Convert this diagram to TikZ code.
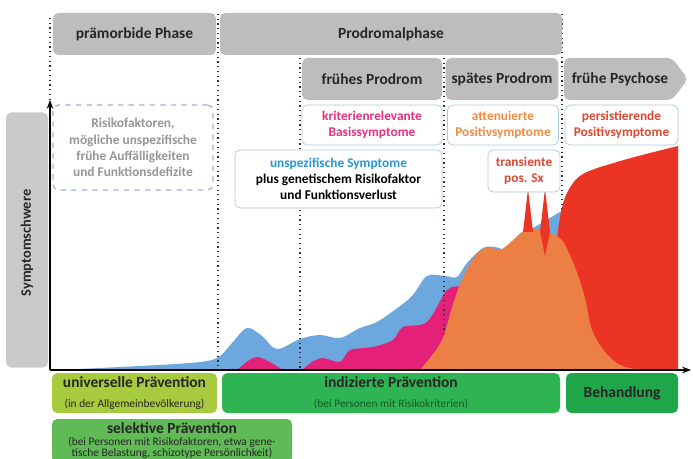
\documentclass[tikz,border=0pt]{standalone}
\usepackage{fontspec}
\setmainfont{Carlito}
\usetikzlibrary{arrows.meta}

\definecolor{hdrgray}{RGB}{189,189,189}
\definecolor{bargray}{RGB}{202,202,202}
\definecolor{boxline}{RGB}{168,200,224}
\definecolor{sblue}{RGB}{108,168,222}
\definecolor{spink}{RGB}{228,32,120}
\definecolor{sorange}{RGB}{236,128,68}
\definecolor{sred}{RGB}{236,52,36}
\definecolor{tblue}{RGB}{40,150,215}
\definecolor{tgray}{RGB}{150,150,150}
\definecolor{tpink}{RGB}{226,50,128}
\definecolor{torange}{RGB}{240,140,70}
\definecolor{tred}{RGB}{220,72,50}
\definecolor{gyellow}{RGB}{168,202,62}
\definecolor{gmid}{RGB}{46,180,82}
\definecolor{gdark}{RGB}{32,166,74}
\definecolor{gsel}{RGB}{96,186,86}
\newcommand\subfnt{\fontsize{6.5}{6.3}\selectfont\mdseries}

\begin{document}
\begin{tikzpicture}[x=0.02cm,y=-0.02cm,
    hdr/.style={fill=hdrgray, rounded corners=3pt, text=black!85,
      font=\fontsize{8.8}{10}\selectfont\bfseries},
    lbl/.style={draw=boxline, fill=white, rounded corners=3pt, align=center,
      inner sep=1pt, font=\fontsize{7.6}{9.2}\selectfont\bfseries},
    prev/.style={rounded corners=3pt, align=center, inner sep=1pt, text=black!85,
      font=\fontsize{8.8}{10}\selectfont\bfseries},
    phase/.style={black!80, line width=0.7pt, dotted}]
  \def\px{0.02cm}

  \useasboundingbox (0,0) rectangle (693,459);

  \fill[sblue] (56,370) -- plot[smooth, tension=0.55] coordinates {(56,370) (120,367) (190,363)
    (217,358) (232,343) (247,328) (262,336) (277,349) (300,339) (320,335) (340,338)
    (360,328) (375,323) (392,312) (412,296) (427,276) (445,276) (457,277) (467,263)
    (483,248) (495,247) (507,249) (520,235) (533,228) (560,212) (568,208)} -- (568,370) -- cycle;
  \fill[spink] (237,370) -- plot[smooth] coordinates {(237,370) (248,361) (257,357) (268,361) (283,370)} -- cycle;
  \fill[spink] (302,370) -- plot[smooth, tension=0.5] coordinates {(302,370) (312,362) (323,358)
    (340,362) (350,350) (373,347) (393,340) (403,327) (427,322) (447,290) (462,286) (472,282)}
    -- (472,370) -- cycle;

  \foreach \x/\yt in {50/18, 218/14, 300/58, 444/58, 562/14}
    \draw[phase] (\x,\yt) -- (\x,370);

  \fill[sred] (557,370) -- (557,238) -- plot[smooth, tension=0.6] coordinates {(557,238) (561,212)
    (568,191) (583,174) (617,162) (650,153) (678,146)} -- (678,370) -- cycle;
  \fill[sorange] (420,370) -- plot[smooth, tension=0.55] coordinates {(420,370) (436,350) (444,335)
    (453,304) (463,277) (476,255) (488,247) (500,250) (512,241) (522,232) (531,228)
    (541,231) (553,234) (564,243) (576,270) (585,298) (592,330) (605,352) (620,365)
    (640,370)} -- cycle;
  \fill[sred] (528,189) -- (533,232) -- (523,232) -- cycle;
  \fill[sred] (545,189) -- (550,232) -- (545,256) -- (540,232) -- cycle;

  \node[hdr, minimum width=163*\px, minimum height=42*\px] (praem) at (134.5,34) {prämorbide Phase};
  \node[hdr, minimum width=342*\px, minimum height=42*\px] (prodr) at (391,34) {Prodromalphase};
  \node[hdr, minimum width=140*\px, minimum height=42*\px] (frueh) at (372,79) {frühes Prodrom};
  \node[hdr, minimum width=112*\px, minimum height=42*\px] (spaet) at (502,79) {spätes Prodrom};
  \fill[hdrgray, rounded corners=3pt] (564,58) -- (672,58) -- (688,79) -- (672,100) -- (564,100) -- cycle;
  \node[font=\fontsize{8.8}{10}\selectfont\bfseries, text=black!85] (psych) at (620,79) {frühe Psychose};

  \node[fill=bargray, rounded corners=3pt, minimum width=42*\px, minimum height=255*\px] (ybar) at (27,240) {};
  \node[rotate=90, text=black!85, font=\fontsize{8.2}{9}\selectfont\bfseries] (ylab) at (27,243) {Symptomschwere};

  \node[lbl, draw=boxline!90!blue, dashed, line width=0.7pt, text=tgray,
    minimum width=160*\px, minimum height=85*\px] (risk) at (133,147.5)
    {Risikofaktoren,\\mögliche unspezifische\\frühe Auffälligkeiten\\und Funktionsdefizite};
  \node[lbl, text=tpink, minimum width=140*\px, minimum height=40*\px] (krit) at (372,125)
    {kriterienrelevante\\Basissymptome};
  \node[lbl, text=torange, minimum width=111*\px, minimum height=40*\px] (atten) at (503,125)
    {attenuierte\\Positivsymptome};
  \node[lbl, text=tred, minimum width=113*\px, minimum height=40*\px] (persist) at (621.5,125)
    {persistierende\\Positivsymptome};
  \node[lbl, text=tred, minimum width=72*\px, minimum height=42*\px] (trans) at (524,171)
    {transiente\\pos. Sx};
  \node[lbl, text=black, minimum width=207*\px, minimum height=58*\px] (unspez) at (338.5,179)
    {\textcolor{tblue}{unspezifische Symptome}\\plus genetischem Risikofaktor\\und Funktionsverlust};

  \coordinate (orig) at (50,370);
  \draw[line width=1pt, -{Stealth[length=5pt]}] (orig) -- (50,100) coordinate (ytop);
  \draw[line width=1pt, -{Stealth[length=5pt]}] (orig) -- (691,370) coordinate (xend);

  \node[prev, fill=gyellow, minimum width=165*\px, minimum height=40*\px] (univ) at (134.5,393)
    {universelle Prävention\\[1pt]\subfnt(in der Allgemeinbevölkerung)};
  \node[prev, fill=gmid, minimum width=338*\px, minimum height=40*\px] (indiz) at (391,393)
    {indizierte Prävention\\[1pt]\subfnt\color{black!45!gdark}(bei Personen mit Risikokriterien)};
  \node[prev, fill=gdark, minimum width=112*\px, minimum height=40*\px] (behand) at (622,393)
    {Behandlung};
  \node[prev, fill=gsel, minimum width=240*\px, minimum height=44*\px] (selekt) at (172,441) {};
  \node[prev, inner sep=0pt] (seltit) at (172,428) {selektive Prävention};
  \node[prev, inner sep=0pt, font=\fontsize{6.5}{6.6}\selectfont] (selsub) at (172,448)
    {(bei Personen mit Risikofaktoren, etwa gene-\\tische Belastung, schizotype Persönlichkeit)};
\end{tikzpicture}
\end{document}
